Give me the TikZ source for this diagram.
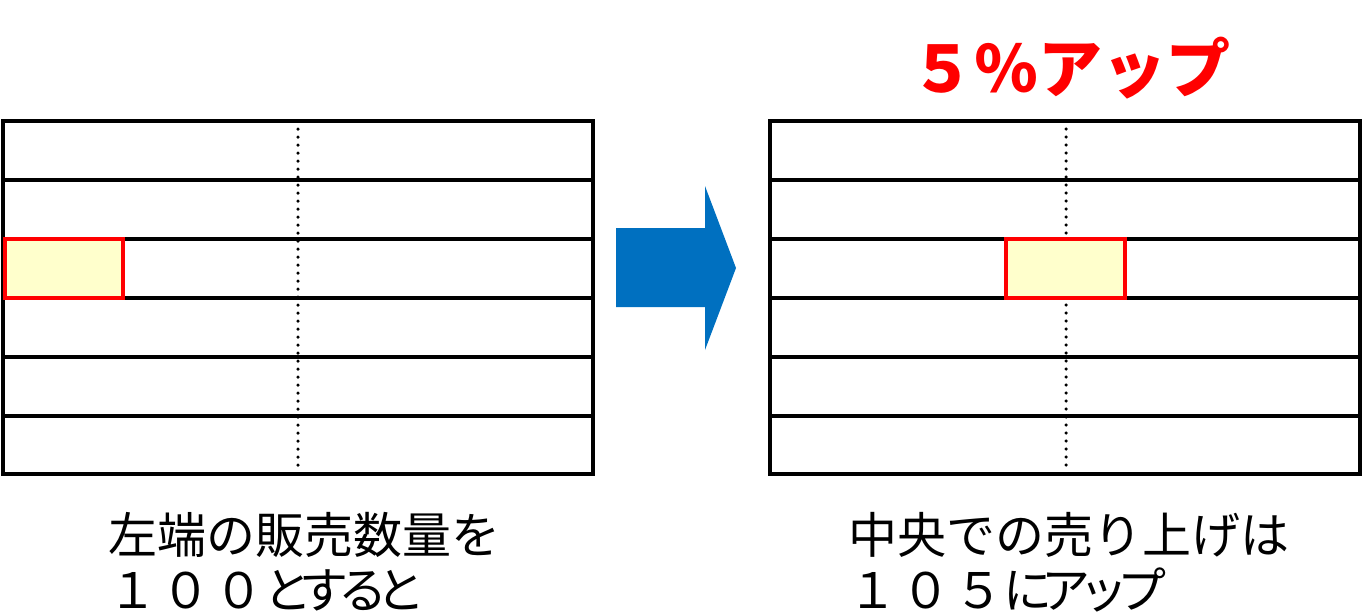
\documentclass[tikz,border=0pt]{standalone}
\usepackage{fontspec}
\newfontfamily\jpfont{Noto Sans CJK JP}
\newfontfamily\jpnarrow[LetterSpace=-22]{Noto Sans CJK JP}
\newfontfamily\jpwide[LetterSpace=8]{Noto Sans CJK JP}
\usepackage{xcolor}
\definecolor{upred}{HTML}{FF0000}
\definecolor{cellyellow}{HTML}{FFFFCC}
\definecolor{arrowblue}{HTML}{0070C0}
\usetikzlibrary{positioning}
\tikzset{
  rowline/.style  = {line width=4pt, draw=black},
  midline/.style  = {line width=3.5pt, line cap=round, dash pattern=on 0pt off 8pt},
  hicell/.style   = {draw=upred, fill=cellyellow, line width=4pt},
  captext/.style  = {anchor=base west, align=left, inner sep=0pt,
                     font=\jpfont\fontsize{49}{55}\selectfont},
  titletext/.style= {text=upred, inner sep=0pt,
                     font=\jpfont\bfseries\fontsize{64}{70}\selectfont},
}

\begin{document}
\begin{tikzpicture}[x=1pt, y=-1pt]
  \useasboundingbox (0,0) rectangle (1363,614);
  % two tables, left before and right after
  \foreach \xl/\xr/\xm in {3/593/298, 770/1360/1066} {
    \draw[midline] (\xm,129) -- (\xm,470);
    \foreach \yy in {180,239,298,357,416}
      \draw[rowline] (\xl,\yy) -- (\xr,\yy);
    \draw[rowline] (\xl,121) rectangle (\xr,474);
  }
  % highlighted cells
  \draw[hicell] (5,239) rectangle (123,298);
  \draw[hicell] (1006,239) rectangle (1125,298);
  % block arrow
  \fill[arrowblue] (616,228) -- (705,228) -- (705,186) -- (736,268)
    -- (705,350) -- (705,307) -- (616,307) -- cycle;
  % texts
  \node[titletext] (title) at (1070,68) {５％アップ};
  \node[captext] (capleft) at (108,608)
    {左端の販売数量を\\{\jpwide １００}{\jpnarrow とすると}};
  \node[captext] (capright) at (848,608)
    {中央での売り上げは\\{\jpwide １０５}{\jpnarrow にアップ}};
\end{tikzpicture}
\end{document}
